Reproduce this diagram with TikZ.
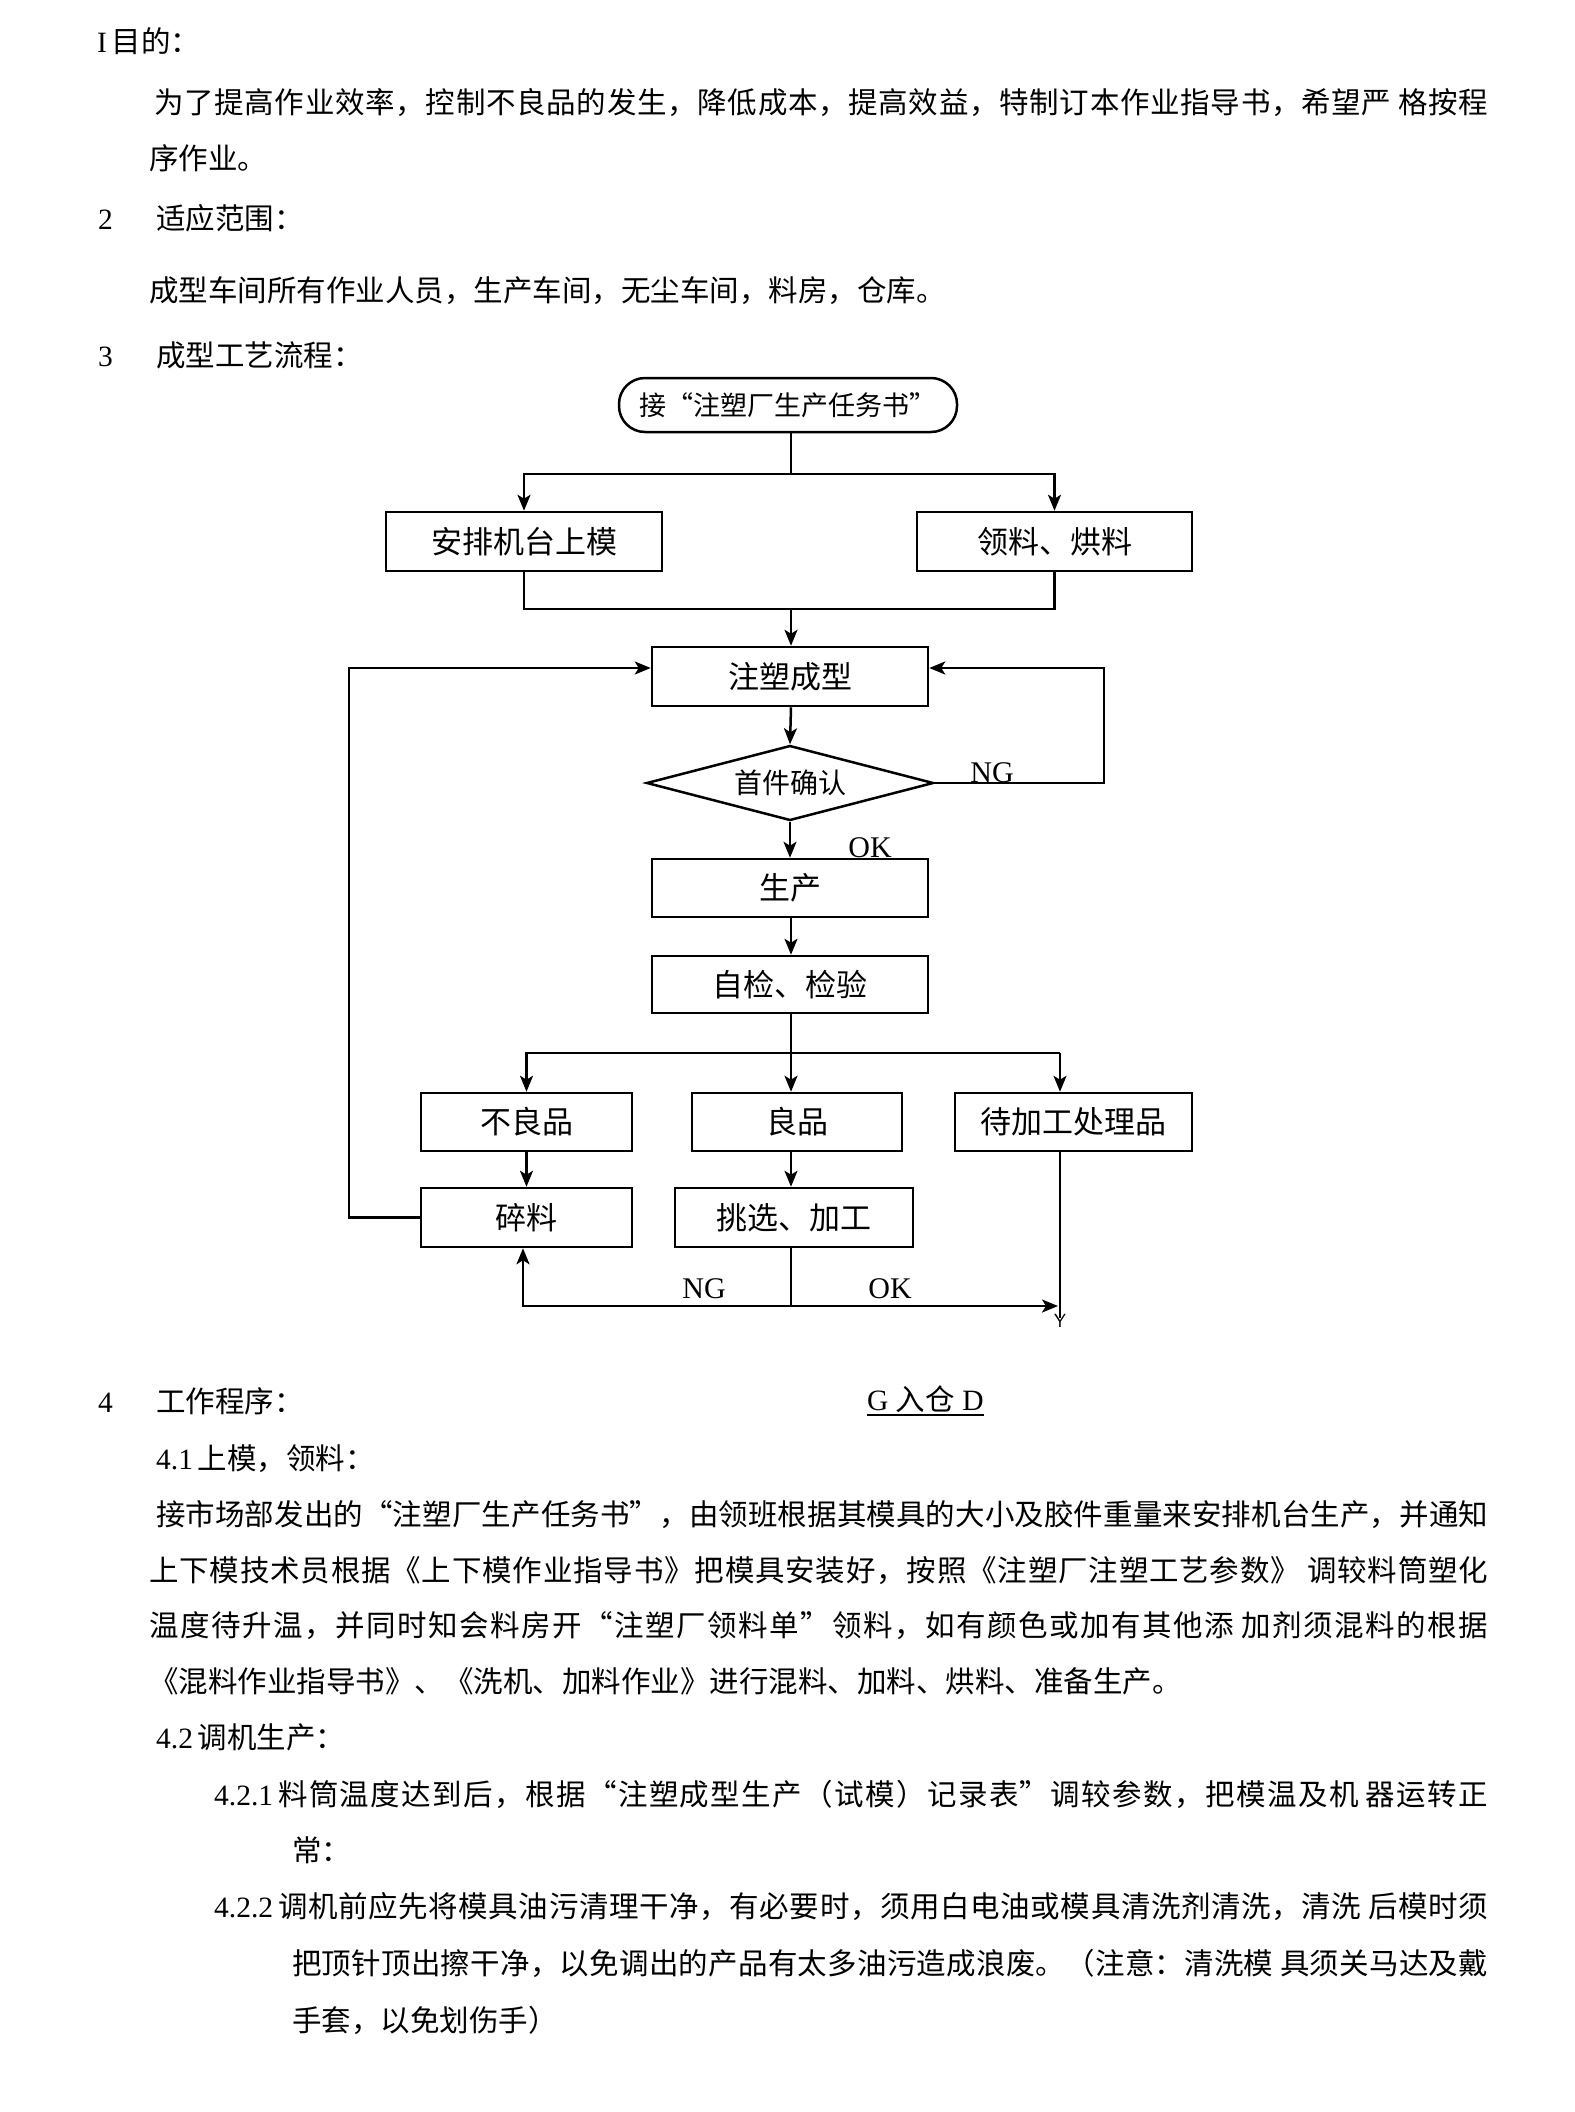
\documentclass[tikz,border=0pt]{standalone}
\usepackage{fontspec}
\setmainfont{Liberation Serif}
\newfontfamily\cjk{Noto Sans CJK SC}
\usetikzlibrary{arrows.meta,shapes.geometric}
\newcount\cjkc
\newcommand\setcjkrange[2]{\cjkc=#1\relax
  \loop\XeTeXcharclass\cjkc=1\relax\advance\cjkc by 1\relax\ifnum\cjkc<#2\relax\repeat}
\setcjkrange{"4E00}{"A000}
\setcjkrange{"3000}{"3040}
\setcjkrange{"FF00}{"FFF0}
\XeTeXcharclass"201C=1
\XeTeXcharclass"201D=1
\XeTeXinterchartokenstate=1
\XeTeXinterchartoks 1 1 = {\hskip 0pt plus 6pt\relax}
\begin{document}
\begin{tikzpicture}[x=1pt,y=-1pt,
  box/.style={draw, line width=2.5pt, inner sep=0pt, font=\cjk\fontsize{31}{31}\selectfont},
  ln/.style={line width=2.5pt},
  arr/.style={line width=2.5pt, -{Stealth[length=16pt,width=13pt,inset=4pt]}},
  body/.style={anchor=base west, inner sep=0pt, font=\fontsize{29.5}{29.5}\selectfont},
  lab/.style={anchor=base, inner sep=0pt, font=\fontsize{30}{30}\selectfont}]
\fill[white] (0,0) rectangle (1574,2112);
\useasboundingbox (0,0) rectangle (1574,2112);

% ---------- body text, top ----------
\node[body] (t1) at (97,52) {I\,{\cjk 目的：}};
\node[body] (t2) at (154,113) {\hbox to 1334pt{\cjk 为了提高作业效率，控制不良品的发生，降低成本，提高效益，特制订本作业指导书，希望严 格按程}};
\node[body] (t3) at (149,169) {\cjk 序作业。};
\node[body] (t4n) at (98,229) {2};
\node[body] (t4) at (156,229) {\cjk 适应范围：};
\node[body] (t5) at (149,301) {\cjk 成型车间所有作业人员，生产车间，无尘车间，料房，仓库。};
\node[body] (t6n) at (98,366) {3};
\node[body] (t6) at (156,366) {\cjk 成型工艺流程：};

% ---------- flowchart ----------
\node[box, rounded corners=26pt, minimum width=338pt, minimum height=54pt,
      font=\cjk\fontsize{27}{27}\selectfont] (term) at (788,405) {接“注塑厂生产任务书”};
\node[box, minimum width=276pt, minimum height=59pt] (b1) at (524,541.5) {安排机台上模};
\node[box, minimum width=275pt, minimum height=59pt] (b2) at (1054.5,541.5) {领料、烘料};
\node[box, minimum width=276pt, minimum height=59pt] (mold) at (790,676.5) {注塑成型};
\node[box, shape=diamond, aspect=3.83, minimum width=287pt, minimum height=75pt,
      font=\cjk\fontsize{28}{28}\selectfont] (dia) at (790,783) {首件确认};
\node[box, minimum width=276pt, minimum height=58pt] (prod) at (790,888) {生产};
\node[box, minimum width=276pt, minimum height=57pt] (insp) at (790,984.5) {自检、检验};
\node[box, minimum width=211pt, minimum height=58pt] (bad) at (526.5,1122) {不良品};
\node[box, minimum width=210pt, minimum height=58pt] (good) at (797,1122) {良品};
\node[box, minimum width=237pt, minimum height=58pt] (pend) at (1073.5,1122) {待加工处理品};
\node[box, minimum width=211pt, minimum height=59pt] (scrap) at (526.5,1217.5) {碎料};
\node[box, minimum width=238pt, minimum height=59pt] (pick) at (794,1217.5) {挑选、加工};

\coordinate (s1) at (791,474);
\coordinate (j1) at (791,609);
\coordinate (r1) at (1104,783);
\coordinate (r2) at (1104,668);
\coordinate (l1) at (349,1217.5);
\coordinate (l2) at (349,668);
\coordinate (s2) at (791,1053);
\coordinate (s2r) at (1060,1053);
\coordinate (b0) at (791,1306);
\coordinate (bl) at (523,1306);
\coordinate (br) at (1058,1306);
\coordinate (yend) at (1060,1318);

\draw[ln] (term.south -| s1) -- (s1);
\draw[arr] (s1) -| (b1.north);
\draw[arr] (s1) -| (b2.north);
\draw[ln] (b1.south) |- (j1);
\draw[ln] (b2.south) |- (j1);
\draw[arr] (j1) -- (mold.north -| j1);
\draw[arr] (mold.south -| s1) -- (dia.north);
\draw[arr] (dia.east) -- (r1) -- (r2) -- (mold.east |- r2);
\draw[arr] (dia.south) -- (prod.north -| dia.south);
\draw[arr] (prod.south -| s1) -- (insp.north -| s1);
\draw[ln] (insp.south -| s2) -- (s2);
\draw[arr] (s2) -| (bad.north);
\draw[arr] (s2) -- (s2 |- good.north);
\draw[ln] (s2) -- (s2r);
\draw[arr] (s2r) -- (s2r |- pend.north);
\draw[arr] (bad.south) -- (scrap.north);
\draw[arr] (good.south -| s2) -- (pick.north -| s2);
\draw[arr] (scrap.west) -- (l1) -- (l2) -- (mold.west |- l2);
\draw[ln] (pick.south -| b0) -- (b0);
\draw[arr] (b0) -- (bl) -- (scrap.south -| bl);
\draw[arr] (b0) -- (br);
\draw[ln] (pend.south -| yend) -- (yend);

\node[lab] (ng1) at (992,782) {NG};
\node[lab] (ok1) at (870,857) {OK};
\node[lab] (ng2) at (704,1298) {NG};
\node[lab] (ok2) at (890,1298) {OK};
\node[anchor=north, inner sep=0pt, font=\sffamily\fontsize{19}{19}\selectfont] (ylab) at (1060,1314) {Y};

% ---------- body text, bottom ----------
\node[body] (t7n) at (98,1412) {4};
\node[body] (t7) at (156,1412) {\cjk 工作程序：};
\node[body] (gd) at (867,1410) {G {\cjk 入仓} D};
\draw[line width=2.4pt] ([yshift=-5pt]gd.base west) -- ([yshift=-5pt]gd.base east);
\node[body] (t8) at (156,1469) {4.1\,{\cjk 上模，领料：}};
\node[body] (t9) at (156,1525) {\hbox to 1332pt{\cjk 接市场部发出的“注塑厂生产任务书”，由领班根据其模具的大小及胶件重量来安排机台生产，并通知}};
\node[body] (t10) at (149,1581) {\hbox to 1339pt{\cjk 上下模技术员根据《上下模作业指导书》把模具安装好，按照《注塑厂注塑工艺参数》 调较料筒塑化}};
\node[body] (t11) at (149,1636) {\hbox to 1339pt{\cjk 温度待升温，并同时知会料房开“注塑厂领料单”领料，如有颜色或加有其他添 加剂须混料的根据}};
\node[body] (t12) at (149,1692) {\cjk 《混料作业指导书》、《洗机、加料作业》进行混料、加料、烘料、准备生产。};
\node[body] (t13) at (156,1748) {4.2\,{\cjk 调机生产：}};
\node[body] (t14) at (214,1805) {\hbox to 1274pt{4.2.1\,{\cjk 料筒温度达到后，根据“注塑成型生产（试模）记录表”调较参数，把模温及机 器运转正}}};
\node[body] (t15) at (292,1861) {\cjk 常：};
\node[body] (t16) at (214,1917) {\hbox to 1274pt{4.2.2\,{\cjk 调机前应先将模具油污清理干净，有必要时，须用白电油或模具清洗剂清洗，清洗 后模时须}}};
\node[body] (t17) at (292,1974) {\hbox to 1196pt{\cjk 把顶针顶出擦干净，以免调出的产品有太多油污造成浪废。（注意：清洗模 具须关马达及戴}};
\node[body] (t18) at (292,2031) {\cjk 手套，以免划伤手）};
\end{tikzpicture}
\end{document}
